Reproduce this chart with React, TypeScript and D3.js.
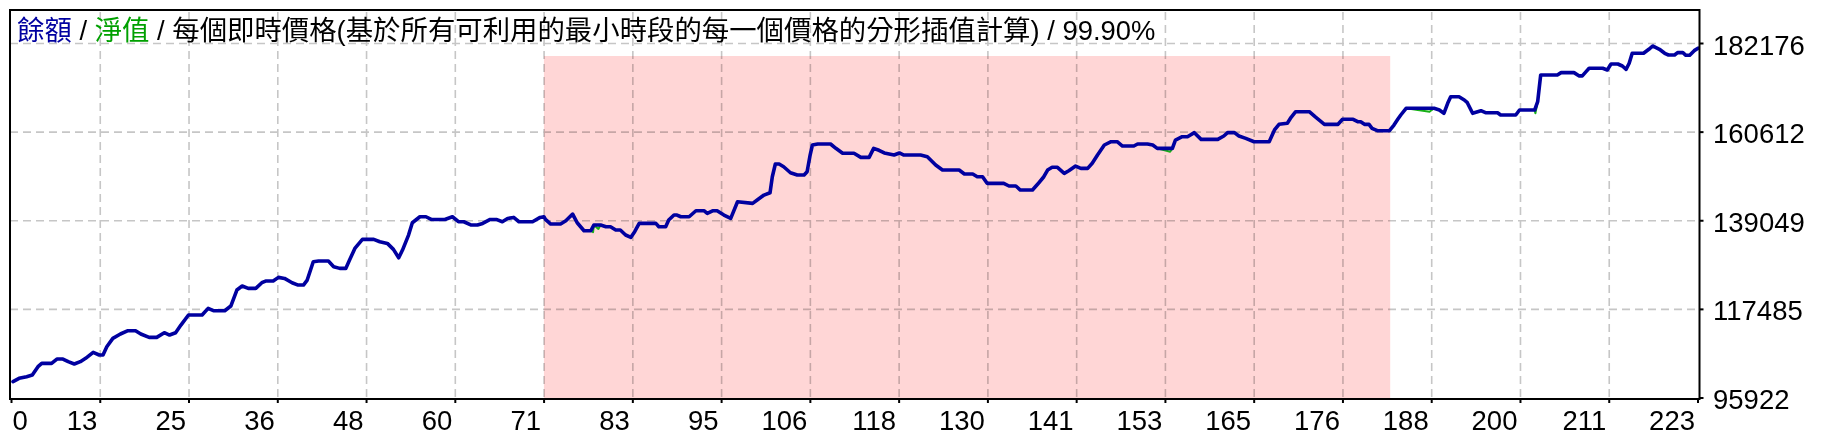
import React from 'react';
import * as d3 from 'd3';

// Trade number (x) and balance (y)
const tradeIndex = [
  0.2, 1.0, 2.0, 2.75, 3.5, 4.0, 5.3, 6.0, 6.8, 7.5, 8.3, 9.1, 9.8, 10.8, 11.6, 12.1, 12.6, 13.4, 14.4, 15.4,
  16.4, 17.1, 18.2, 19.2, 20.2, 20.9, 21.7, 22.4, 23.4, 25.2, 26.0, 26.7, 28.2, 29.0, 29.8, 30.5, 31.3, 32.3, 33.1, 33.6,
  34.6, 35.3, 36.1, 37.1, 37.9, 38.6, 39.1, 39.9, 40.6, 41.9, 42.6, 43.4, 44.2, 44.7, 45.4, 46.4, 47.9, 48.7, 49.7, 50.5,
  51.2, 51.7, 52.5, 53.0, 54.0, 54.8, 55.5, 57.3, 58.3, 59.1, 59.8, 60.8, 61.6, 62.3, 63.3, 64.1, 64.9, 65.6, 66.4, 67.1,
  68.9, 69.9, 70.4, 70.6, 71.3, 72.6, 73.3, 74.2, 74.8, 75.7, 76.6, 77.0, 77.9, 78.6, 79.2, 79.9, 80.5, 81.2, 81.9, 82.4,
  83.0, 85.2, 85.6, 86.5, 86.9, 87.6, 88.0, 88.5, 89.6, 90.5, 91.6, 92.0, 92.7, 93.3, 94.2, 95.1, 96.0, 98.0, 98.6, 99.5,
  100.3, 100.6, 101.0, 101.5, 102.1, 103.0, 103.9, 104.8, 105.2, 105.6, 105.9, 106.6, 108.3, 109.0, 109.9, 111.4, 112.3, 113.4, 114.0, 114.7,
  115.4, 116.7, 117.4, 118.0, 120.2, 121.1, 122.2, 123.1, 125.3, 126.0, 127.1, 127.7, 128.4, 129.0, 131.2, 131.9, 132.8, 133.4, 135.0, 135.7,
  136.5, 137.0, 137.6, 138.3, 139.2, 139.8, 140.7, 141.4, 142.3, 142.9, 143.6, 144.5, 145.4, 146.2, 146.9, 148.4, 148.9, 150.2, 150.9, 151.5,
  153.5, 153.9, 154.8, 155.5, 156.4, 157.3, 159.5, 160.3, 160.8, 161.7, 162.3, 163.2, 164.3, 166.3, 167.0, 167.6, 168.7, 169.2, 169.8, 171.6,
  172.4, 173.6, 175.4, 176.0, 177.4, 178.0, 178.4, 178.9, 179.5, 179.9, 180.6, 182.2, 182.8, 183.3, 183.7, 184.4, 188.1, 188.8, 189.4, 189.9,
  190.3, 191.4, 192.1, 192.5, 193.2, 194.3, 194.9, 196.5, 196.9, 198.9, 199.4, 201.4, 201.8, 202.0, 202.2, 204.4, 204.9, 206.6, 207.3, 207.7,
  208.2, 208.6, 210.4, 211.0, 211.5, 212.4, 213.0, 213.5, 213.9, 214.3, 215.8, 216.5, 217.0, 217.9, 218.6, 219.1, 219.9, 220.3, 221.0, 221.4,
  221.9, 222.5, 223.0,
];
const balance = [
  99890, 100700, 101110, 101510, 103540, 104350, 104350, 105400, 105400, 104760, 104190, 104760, 105570, 107030, 106380, 106380, 108400, 110430, 111490, 112300,
  112300, 111490, 110670, 110670, 111810, 111240, 111810, 113670, 116110, 116110, 117730, 117160, 117160, 118300, 122190, 123160, 122590, 122590, 123970, 124380,
  124380, 125270, 125020, 123970, 123400, 123400, 124620, 129080, 129240, 129240, 127860, 127460, 127460, 129480, 132320, 134510, 134510, 133940, 133540, 132080,
  130050, 131920, 135560, 138560, 140020, 140020, 139370, 139370, 140020, 138810, 138810, 138000, 138000, 138400, 139370, 139370, 138810, 139620, 139860, 138810,
  138810, 139860, 140020, 139390, 138250, 138250, 139050, 140680, 138560, 136620, 136620, 138000, 138000, 137590, 137590, 136790, 136790, 135580, 135010, 136380,
  138420, 138420, 137590, 137590, 139220, 140440, 140440, 140020, 140020, 141480, 141480, 140850, 141480, 141480, 140440, 139630, 143670, 143280, 144090, 145300,
  145860, 149760, 152850, 152850, 152190, 150730, 150170, 150170, 150980, 155040, 157480, 157720, 157720, 156670, 155460, 155460, 154480, 154480, 156670, 156190,
  155540, 155040, 155540, 155040, 155040, 154630, 152610, 151390, 151390, 150420, 150420, 149760, 149760, 148150, 148150, 147500, 147500, 146520, 146520, 147980,
  149760, 151390, 152050, 152050, 150590, 151220, 152360, 151800, 151800, 153020, 155040, 157480, 158280, 158280, 157230, 157230, 157720, 157720, 157480, 156670,
  156670, 158690, 159500, 159500, 160480, 158850, 158850, 159670, 160480, 160480, 159670, 159100, 158280, 158280, 161130, 162510, 162760, 164220, 165580, 165580,
  164300, 162510, 162510, 163730, 163730, 163150, 163150, 162510, 162510, 161540, 160960, 160960, 162340, 163730, 164780, 166410, 166410, 165990, 165190, 167620,
  169230, 169230, 168430, 167770, 165190, 165820, 165340, 165340, 164780, 164780, 165990, 165990, 168010, 171270, 174520, 174520, 175090, 175090, 174290, 174290,
  175330, 176140, 176140, 175740, 177190, 177190, 176700, 175900, 177360, 179790, 179790, 180770, 181570, 180770, 179790, 179380, 179380, 179960, 179960, 179310,
  179310, 180440, 181020,
];

// Points where the equity line dips below the balance line
const equityIndex = [76.9, 77.6, 153.2, 187.5, 201.5];
const equityValue = [136250, 137050, 155850, 165580, 165190];

const xTickLabels = [0, 13, 25, 36, 48, 60, 71, 83, 95, 106, 118, 130, 141, 153, 165, 176, 188, 200, 211, 223];
const yTickValues = [95922, 117485, 139049, 160612, 182176];
const testPeriod = [70.4, 182.3];

const titleParts = [
  { text: '餘額', color: '#0000a0' },
  { text: ' / ', color: '#000000' },
  { text: '淨值', color: '#00a000' },
  { text: ' / 每個即時價格(基於所有可利用的最小時段的每一個價格的分形插值計算) / 99.90%', color: '#000000' },
];

const FONT = "'Liberation Sans', 'Noto Sans CJK TC', sans-serif";

export default function App() {
  const W = 1821;
  const H = 444;
  const plotLeft = 11.5;
  const plotRight = 1698;
  const frameLeft = 10;
  const frameTop = 10;
  const frameRight = 1699.5;
  const frameBottom = 399;
  const pinkTop = 56;

  const xMax = xTickLabels[xTickLabels.length - 1];
  const xScale = d3.scaleLinear().domain([0, xMax]).range([plotLeft, plotRight]);
  const yScale = d3.scaleLinear().domain([yTickValues[0], yTickValues[yTickValues.length - 1]]).range([398, 43.5]);

  const balancePts: [number, number][] = tradeIndex.map((t, i) => [t, balance[i]]);
  const equityPts: [number, number][] = balancePts
    .concat(equityIndex.map((t, i) => [t, equityValue[i]] as [number, number]))
    .sort((a, b) => a[0] - b[0]);

  const line = d3
    .line<[number, number]>()
    .x((d) => xScale(d[0]))
    .y((d) => yScale(d[1]));

  const nT = xTickLabels.length - 1;
  const tickX = xTickLabels.map((_, k) => xScale((k * xMax) / nT));

  return (
    <svg
      width={W}
      height={H}
      viewBox={`0 0 ${W} ${H}`}
      style={{ position: 'absolute', left: 0, top: 0, background: '#ffffff' }}
      fontFamily={FONT}
    >
      <rect x={0} y={0} width={W} height={H} fill="#ffffff" />

      {/* grid */}
      <g stroke="#c6c6c6" strokeWidth={1.6} strokeDasharray="8 5">
        {tickX.slice(1, -1).map((x, i) => (
          <line key={'vx' + i} x1={x} x2={x} y1={frameTop + 2} y2={frameBottom} />
        ))}
        {yTickValues.slice(1).map((v, i) => (
          <line key={'hy' + i} x1={frameLeft} x2={frameRight} y1={yScale(v)} y2={yScale(v)} />
        ))}
      </g>

      {/* test period highlight */}
      <rect
        x={xScale(testPeriod[0])}
        y={pinkTop}
        width={xScale(testPeriod[1]) - xScale(testPeriod[0])}
        height={frameBottom - pinkTop}
        fill="#ffd6d6"
        style={{ mixBlendMode: 'multiply' }}
      />

      {/* equity */}
      <path d={line(equityPts) || ''} fill="none" stroke="#18b018" strokeWidth={2} strokeLinejoin="round" />
      {/* balance */}
      <path d={line(balancePts) || ''} fill="none" stroke="#0000a0" strokeWidth={3.6} strokeLinejoin="round" strokeLinecap="round" />

      {/* frame */}
      <rect
        x={frameLeft}
        y={frameTop}
        width={frameRight - frameLeft}
        height={frameBottom - frameTop}
        fill="none"
        stroke="#000000"
        strokeWidth={2}
      />

      {/* y axis ticks & labels */}
      {yTickValues.map((v, i) => (
        <g key={'yt' + i}>
          <line x1={frameRight} x2={frameRight + 4} y1={yScale(v)} y2={yScale(v)} stroke="#000" strokeWidth={2} />
          <text x={1713} y={yScale(v) + 11} fontSize={27.5} fill="#000">
            {v}
          </text>
        </g>
      ))}

      {/* x axis ticks & labels */}
      {xTickLabels.map((lab, k) => (
        <g key={'xt' + k}>
          <line x1={tickX[k]} x2={tickX[k]} y1={frameBottom} y2={frameBottom + 4} stroke="#000" strokeWidth={2} />
          <text
            x={k === 0 ? tickX[k] + 1 : tickX[k] - 3}
            y={430}
            fontSize={27.5}
            fill="#000"
            textAnchor={k === 0 ? 'start' : 'end'}
          >
            {lab}
          </text>
        </g>
      ))}

      {/* title */}
      <text x={17} y={40} fontSize={27.4}>
        {titleParts.map((p, i) => (
          <tspan key={i} fill={p.color} style={{ whiteSpace: 'pre' }}>
            {p.text}
          </tspan>
        ))}
      </text>
    </svg>
  );
}
